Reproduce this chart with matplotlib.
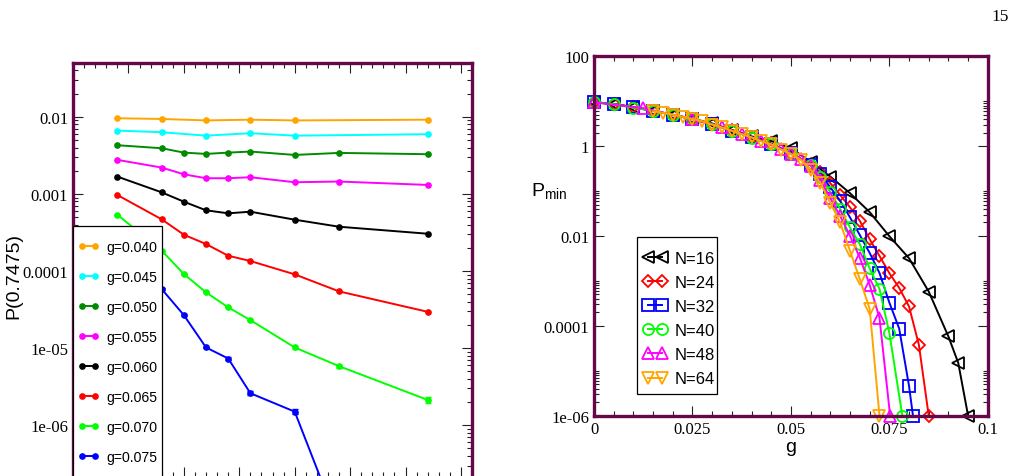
import matplotlib
matplotlib.use('Agg')
import matplotlib.pyplot as plt
from matplotlib.patches import Rectangle
from matplotlib.ticker import FixedLocator, MultipleLocator, NullFormatter, LogLocator, FixedFormatter

# ---- left panel data: P(0.7475) vs N for several g
N_all = [8, 16, 20, 24, 28, 32, 40, 48, 64]
N_six = [8, 16, 24, 32, 40, 64]
N_075 = [8, 16, 20, 24, 28, 32, 40, 48]

p_040 = [0.0096, 0.0094, 0.0090, 0.0092, 0.0090, 0.0092]
p_045 = [0.00664, 0.00633, 0.00571, 0.00614, 0.00571, 0.00596]
p_050 = [0.00429, 0.00392, 0.00344, 0.00331, 0.00344, 0.00355, 0.00321, 0.00341, 0.00328]
p_055 = [0.00277, 0.00220, 0.00180, 0.00160, 0.00160, 0.00165, 0.00142, 0.00145, 0.00131]
p_060 = [0.00168, 0.00105, 0.000794, 0.000614, 0.000561, 0.000589, 0.000464, 0.000376, 0.000305]
p_065 = [0.00097, 0.000469, 0.000296, 0.000224, 0.000158, 0.000135, 0.0000906, 0.0000545, 0.0000296]
p_070 = [0.000538, 0.000184, 0.0000914, 0.0000529, 0.0000338, 0.0000231, 0.0000102, 0.00000584, 0.00000213]
p_075 = [0.00024, 0.0000584, 0.0000268, 0.0000102, 0.00000734, 0.0000026, 0.0000015, 5e-8]
err_070 = [0, 0, 0, 0, 0, 0, 0.4e-6, 0.25e-6, 0.18e-6]
err_075 = [0, 1.5e-6, 0.8e-6, 0.3e-6, 0.35e-6, 0.15e-6, 0.1e-6, 0]

g_labels = ['g=0.040', 'g=0.045', 'g=0.050', 'g=0.055', 'g=0.060', 'g=0.065', 'g=0.070', 'g=0.075']

# ---- right panel data: P_min vs g for several N
g16 = [0, 0.005, 0.01, 0.015, 0.02, 0.025, 0.03, 0.035, 0.04, 0.045, 0.05, 0.055, 0.06, 0.065, 0.07,
       0.075, 0.08, 0.085, 0.09, 0.0925, 0.095]
p16 = [9.5, 8.7, 7.4, 6.1, 5.0, 4.1, 3.2, 2.3, 1.65, 1.3, 0.9, 0.45, 0.21, 0.09, 0.034,
       0.0099, 0.0032, 5.8e-4, 5.8e-5, 1.5e-5, 1e-6]
g24 = [0, 0.005, 0.01, 0.015, 0.02, 0.025, 0.03, 0.035, 0.04, 0.045, 0.05, 0.055, 0.0575, 0.06, 0.0625,
       0.065, 0.0675, 0.07, 0.0725, 0.075, 0.0775, 0.08, 0.0825, 0.085]
p24 = [9.5, 8.7, 7.3, 6.1, 5.0, 4.0, 3.1, 2.25, 1.6, 1.15, 0.7, 0.4, 0.26, 0.15, 0.082,
       0.0434, 0.0218, 0.0085, 0.0036, 0.00149, 7.0e-4, 2.7e-4, 3.8e-5, 1e-6]
g32 = [0, 0.005, 0.01, 0.015, 0.02, 0.025, 0.03, 0.035, 0.04, 0.045, 0.05, 0.055, 0.0575, 0.06, 0.0625,
       0.065, 0.0675, 0.07, 0.0725, 0.075, 0.0775, 0.08, 0.081]
p32 = [9.6, 8.6, 7.3, 6.1, 4.9, 4.0, 3.1, 2.2, 1.6, 1.12, 0.7, 0.39, 0.24, 0.121, 0.061,
       0.026, 0.0105, 0.0042, 0.0015, 3.3e-4, 8.7e-5, 4.6e-6, 1e-6]
g40 = [0, 0.005, 0.01, 0.015, 0.02, 0.025, 0.03, 0.035, 0.04, 0.045, 0.05, 0.055, 0.0575, 0.06, 0.0625,
       0.065, 0.0675, 0.07, 0.0725, 0.075, 0.0783]
p40 = [9.5, 8.6, 7.2, 6.1, 5.0, 4.0, 3.1, 2.2, 1.55, 1.1, 0.68, 0.38, 0.21, 0.094, 0.04,
       0.0155, 0.0066, 0.0019, 6.6e-4, 7e-5, 1e-6]
g48 = [0, 0.0125, 0.025, 0.0325, 0.0375, 0.0425, 0.0475, 0.05, 0.0525, 0.055, 0.0575, 0.06, 0.0625,
       0.065, 0.0675, 0.07, 0.0725, 0.0752]
p48 = [9.4, 7.0, 4.0, 2.6, 1.86, 1.3, 0.85, 0.67, 0.52, 0.37, 0.18, 0.07, 0.028,
       0.0101, 0.0033, 8.2e-4, 1.5e-4, 1e-6]
g64 = [0.015, 0.0175, 0.02, 0.0225, 0.025, 0.0275, 0.03, 0.0325, 0.035, 0.0375, 0.04, 0.0425, 0.045,
       0.0475, 0.05, 0.0525, 0.055, 0.0575, 0.06, 0.0625, 0.065, 0.0675, 0.07, 0.0725]
p64 = [6.0, 5.5, 5.0, 4.5, 4.0, 3.6, 3.0, 2.6, 2.2, 1.86, 1.57, 1.28, 1.1,
       0.83, 0.67, 0.5, 0.3, 0.15, 0.055, 0.02, 0.0047, 0.0011, 2.4e-4, 1e-6]
N_labels = ['N=16', 'N=24', 'N=32', 'N=40', 'N=48', 'N=64']

frame_col = '#67074a'
serif = ['Liberation Serif', 'DejaVu Serif']
sans = ['Liberation Sans', 'DejaVu Sans']


def style_axes(ax):
    for sp in ax.spines.values():
        sp.set_color(frame_col)
        sp.set_linewidth(2.4)
    ax.tick_params(which='both', direction='in', top=True, right=True, color='#222222', width=0.8)
    ax.tick_params(which='major', length=7)
    ax.tick_params(which='minor', length=3.8)
    for lab in ax.get_xticklabels() + ax.get_yticklabels():
        lab.set_family(serif)
        lab.set_fontsize(12)


def legend_box(ax, x0, y0, x1, y1):
    # white legend background with thin black frame, drawn above the curves
    ax.add_patch(Rectangle((x0, y0), x1 - x0, y1 - y0, transform=ax.transAxes,
                           facecolor='white', edgecolor='black', lw=0.9,
                           zorder=4.5, clip_on=False))


fig = plt.figure(figsize=(10.2, 4.77), dpi=100)

# ---------------- left panel (cut at the bottom of the page)
ax1 = fig.add_axes([0.0716, -0.0031, 0.3912, 0.8689])
left_series = [
    (N_six, p_040, '#ffa500'),
    (N_six, p_045, '#00ffff'),
    (N_all, p_050, '#008b00'),
    (N_all, p_055, '#ff00ff'),
    (N_all, p_060, '#000000'),
    (N_all, p_065, '#ff0000'),
    (N_all, p_070, '#00ff00'),
    (N_075, p_075, '#0000ff'),
]
errs = {6: err_070, 7: err_075}
handles1 = []
for i, (xs, ys, c) in enumerate(left_series):
    ln, = ax1.plot(xs, ys, color=c, marker='o', ms=3.8, lw=1.4, label=g_labels[i])
    handles1.append(ln)
    if i in errs:
        ax1.errorbar(xs, ys, yerr=errs[i], fmt='none', ecolor=c, capsize=2.5, elinewidth=1.2)

ax1.set_yscale('log')
ax1.set_xlim(0, 72)
ax1.set_ylim(2.1e-7, 0.05)
ax1.xaxis.set_major_locator(MultipleLocator(10))
ax1.xaxis.set_minor_locator(MultipleLocator(2))
ax1.yaxis.set_major_locator(FixedLocator([1e-6, 1e-5, 1e-4, 1e-3, 1e-2]))
ax1.yaxis.set_major_formatter(FixedFormatter(['1e-06', '1e-05', '0.0001', '0.001', '0.01']))
ax1.yaxis.set_minor_locator(LogLocator(base=10, subs=range(2, 10)))
ax1.yaxis.set_minor_formatter(NullFormatter())
ax1.tick_params(labelbottom=False)
style_axes(ax1)
ax1.set_ylabel('P(0.7475)', family=sans, fontsize=14)
ax1.yaxis.set_label_coords(-0.127, 0.488)

legend_box(ax1, 0.0, -0.05, 0.223, 0.607)
leg1 = ax1.legend(handles=handles1, loc='upper left', bbox_to_anchor=(0.0125, 0.572),
                  borderaxespad=0, borderpad=0, prop={'family': sans, 'size': 10.1},
                  frameon=False, handlelength=1.5, handletextpad=0.5,
                  labelspacing=1.14, numpoints=2)
leg1.set_zorder(5)

# ---------------- right panel
ax2 = fig.add_axes([0.5824, 0.1264, 0.3860, 0.7535])
right_series = [
    (g16, p16, '#000000', '<'),
    (g24, p24, '#ff0000', 'D'),
    (g32, p32, '#0000ff', 's'),
    (g40, p40, '#00ff00', 'o'),
    (g48, p48, '#ff00ff', '^'),
    (g64, p64, '#ffa500', 'v'),
]
for i, (xs, ys, c, m) in enumerate(right_series):
    ms = 6.5 if m == 'D' else 8
    ax2.plot(xs, ys, color=c, marker=m, ms=ms, mfc='none', mew=1.3, lw=1.4,
             label=N_labels[i], clip_on=False)

ax2.set_yscale('log')
ax2.set_xlim(0, 0.1)
ax2.set_ylim(1e-6, 100)
ax2.xaxis.set_major_locator(FixedLocator([0, 0.025, 0.05, 0.075, 0.1]))
ax2.xaxis.set_major_formatter(FixedFormatter(['0', '0.025', '0.05', '0.075', '0.1']))
ax2.xaxis.set_minor_locator(MultipleLocator(0.005))
ax2.yaxis.set_major_locator(FixedLocator([1e-6, 1e-4, 1e-2, 1, 100]))
ax2.yaxis.set_major_formatter(FixedFormatter(['1e-06', '0.0001', '0.01', '1', '100']))
minor_y = [k * 10.0 ** n for n in (-6, -4, -2, 0) for k in range(2, 11)]
ax2.yaxis.set_minor_locator(FixedLocator(minor_y))
ax2.yaxis.set_minor_formatter(NullFormatter())
style_axes(ax2)
ax2.set_xlabel('g', family=sans, fontsize=14, labelpad=1)
ax2.set_ylabel(r'P$_{\mathregular{min}}$', family=sans, fontsize=14, rotation=0, va='center', ha='center')
ax2.yaxis.set_label_coords(-0.115, 0.625)

legend_box(ax2, 0.110, 0.0604, 0.313, 0.4964)
leg2 = ax2.legend(loc='upper left', bbox_to_anchor=(0.1245, 0.4596), borderaxespad=0,
                  borderpad=0, prop={'family': sans, 'size': 12}, frameon=False,
                  handlelength=1.45, handletextpad=0.42, labelspacing=0.55, numpoints=2)
leg2.set_zorder(5)

# page number
fig.text(0.981, 0.964, '15', family=serif, fontsize=12.5, ha='center', va='center')

fig.savefig('out.png', dpi=100)
